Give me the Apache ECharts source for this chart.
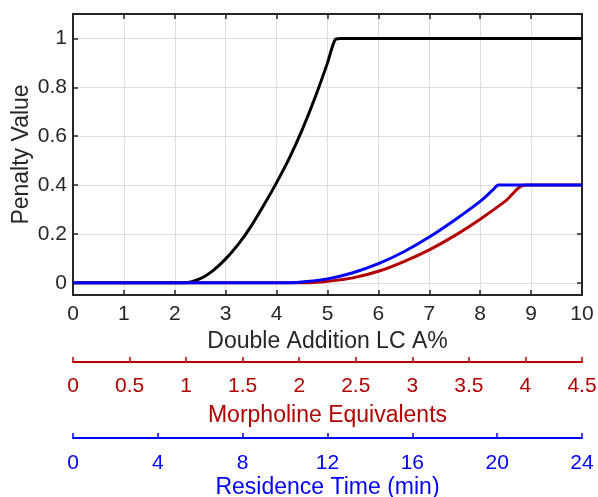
<!DOCTYPE html>
<html>
<head>
<meta charset="utf-8">
<script src="https://cdn.jsdelivr.net/npm/echarts@6/dist/echarts.min.js"></script>
<style>
html, body { margin: 0; padding: 0; background: #fff; }
#main { width: 598px; height: 497px; }
</style>
</head>
<body>
<div id="main"></div>
<script>
// penalty curves
var blackX = [0, 2.2, 2.5, 2.75, 3, 3.25, 3.5, 3.75, 4, 4.25, 4.5, 4.75, 5, 5.15, 5.25, 10]
var blackY = [0, 0, 0.017, 0.05, 0.098, 0.158, 0.232, 0.318, 0.41, 0.51, 0.625, 0.755, 0.9, 0.995, 1, 1]

var redX = [0, 4.6, 5, 5.5, 6, 6.5, 7, 7.5, 8, 8.5, 8.88, 10]
var redY = [0, 0, 0.006, 0.02, 0.047, 0.087, 0.135, 0.193, 0.26, 0.335, 0.4, 0.4]

var blueX = [0, 4.3, 4.5, 5, 5.5, 6, 6.5, 7, 7.5, 8, 8.25, 8.36, 10]
var blueY = [0, 0, 0.003, 0.016, 0.041, 0.078, 0.127, 0.187, 0.257, 0.333, 0.38, 0.4, 0.4]

var yTicks = [0, 0.2, 0.4, 0.6, 0.8, 1]

var textColor = '#262626'
var red = '#b30000'
var blue = '#0000ff'
var font = 'Liberation Sans, Arial, sans-serif'

function pairs(xs, ys) {
    var out = []
    for (let i = 0; i < xs.length; i++) {
        out.push([xs[i], ys[i]])
    }
    return out
}

function extraAxis(gridIndex, max, interval, color, name, gap, margin) {
    return {
        type: 'value',
        gridIndex: gridIndex,
        position: 'bottom',
        min: 0,
        max: max,
        interval: interval,
        name: name,
        nameLocation: 'middle',
        nameGap: gap,
        nameTextStyle: { color: color, fontSize: 23, fontFamily: font },
        axisLine: { show: true, lineStyle: { color: color, width: 2 } },
        axisTick: { show: true, inside: true, length: 5, lineStyle: { color: color, width: 1.5 } },
        axisLabel: { color: color, fontSize: 21, fontFamily: font, margin: margin },
        splitLine: { show: false }
    }
}

var option = {
    animation: false,
    grid: [
        { left: 73, top: 14, width: 509, height: 281, outerBoundsMode: 'none' },
        { left: 73, top: 361, width: 509, height: 1, outerBoundsMode: 'none' },
        { left: 73, top: 437, width: 509, height: 1, outerBoundsMode: 'none' }
    ],
    xAxis: [
        {
            type: 'value',
            gridIndex: 0,
            position: 'bottom',
            min: 0,
            max: 10,
            interval: 1,
            name: 'Double Addition LC A%',
            nameLocation: 'middle',
            nameGap: 35,
            nameTextStyle: { color: textColor, fontSize: 23, fontFamily: font },
            axisLine: { show: true, onZero: false, lineStyle: { color: textColor, width: 2 } },
            axisTick: { show: true, inside: true, length: 5, lineStyle: { color: textColor, width: 1.5 } },
            axisLabel: { color: textColor, fontSize: 21, fontFamily: font, margin: 9 },
            splitLine: { show: true, lineStyle: { color: '#dedede', width: 1 } }
        },
        {
            type: 'value',
            gridIndex: 0,
            position: 'top',
            min: 0,
            max: 10,
            interval: 1,
            axisLine: { show: true, onZero: false, lineStyle: { color: textColor, width: 2 } },
            axisTick: { show: true, inside: true, length: 5, lineStyle: { color: textColor, width: 1.5 } },
            axisLabel: { show: false },
            splitLine: { show: false }
        },
        extraAxis(1, 4.5, 0.5, red, 'Morpholine Equivalents', 42, 14),
        extraAxis(2, 24, 4, blue, 'Residence Time (min)', 38, 15)
    ],
    yAxis: [
        {
            type: 'value',
            gridIndex: 0,
            position: 'left',
            min: -0.05,
            max: 1.1,
            name: 'Penalty Value',
            nameLocation: 'middle',
            nameGap: 40,
            nameMoveOverlap: false,
            nameTextStyle: { color: textColor, fontSize: 23, fontFamily: font },
            axisLine: { show: true, onZero: false, lineStyle: { color: textColor, width: 2 } },
            axisTick: { show: true, inside: true, length: 5, customValues: yTicks, lineStyle: { color: textColor, width: 1.5 } },
            axisLabel: { color: textColor, fontSize: 21, fontFamily: font, margin: 6, customValues: yTicks },
            splitLine: { show: true, lineStyle: { color: '#dedede', width: 1 } }
        },
        {
            type: 'value',
            gridIndex: 0,
            position: 'right',
            min: -0.05,
            max: 1.1,
            axisLine: { show: true, onZero: false, lineStyle: { color: textColor, width: 2 } },
            axisTick: { show: true, inside: true, length: 5, customValues: yTicks, lineStyle: { color: textColor, width: 1.5 } },
            axisLabel: { show: false },
            splitLine: { show: false }
        },
        { type: 'value', gridIndex: 1, show: false, min: 0, max: 1 },
        { type: 'value', gridIndex: 2, show: false, min: 0, max: 1 }
    ],
    series: [
        {
            type: 'line', xAxisIndex: 0, yAxisIndex: 0, showSymbol: false,
            smooth: 0.3,
            lineStyle: { color: '#000000', width: 3 },
            data: pairs(blackX, blackY)
        },
        {
            type: 'line', xAxisIndex: 0, yAxisIndex: 0, showSymbol: false,
            smooth: 0.3,
            lineStyle: { color: red, width: 3 },
            data: pairs(redX, redY)
        },
        {
            type: 'line', xAxisIndex: 0, yAxisIndex: 0, showSymbol: false,
            smooth: 0.3,
            lineStyle: { color: blue, width: 3 },
            data: pairs(blueX, blueY)
        }
    ]
}

var myChart = echarts.init(document.getElementById('main'), null, { renderer: 'canvas' })
myChart.setOption(option)
</script>
</body>
</html>
